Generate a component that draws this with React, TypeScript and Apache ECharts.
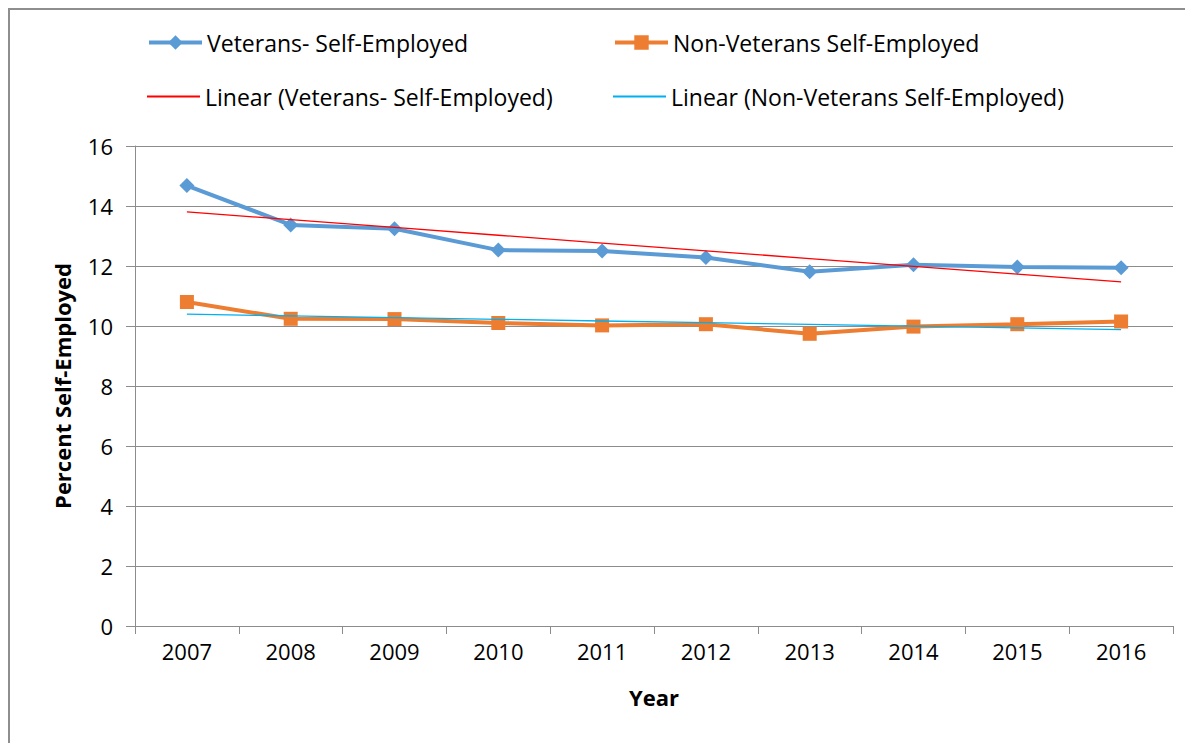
import React, { useEffect, useRef } from "react";
import * as echarts from "echarts";

const years = ["2007", "2008", "2009", "2010", "2011", "2012", "2013", "2014", "2015", "2016"];
const veterans = [14.68, 13.37, 13.24, 12.53, 12.5, 12.28, 11.81, 12.04, 11.97, 11.94];
const nonVeterans = [10.8, 10.24, 10.23, 10.1, 10.02, 10.06, 9.74, 9.98, 10.06, 10.15];
const yTicks = [0, 2, 4, 6, 8, 10, 12, 14, 16];

const NAMES = {
  vet: "Veterans- Self-Employed",
  non: "Non-Veterans Self-Employed",
  vetLin: "Linear (Veterans- Self-Employed)",
  nonLin: "Linear (Non-Veterans Self-Employed)",
};

function linearTrend(vals: number[]): number[] {
  const n = vals.length;
  const xs = vals.map((_, i) => i);
  const mx = xs.reduce((a, b) => a + b, 0) / n;
  const my = vals.reduce((a, b) => a + b, 0) / n;
  let sxy = 0;
  let sxx = 0;
  for (let i = 0; i < n; i++) {
    sxy += (xs[i] - mx) * (vals[i] - my);
    sxx += (xs[i] - mx) * (xs[i] - mx);
  }
  const slope = sxy / sxx;
  return xs.map((x) => +(my + slope * (x - mx)).toFixed(4));
}

const FONT = "'Open Sans', 'Noto Sans', sans-serif";

export default function App() {
  const ref = useRef<HTMLDivElement>(null);
  useEffect(() => {
    document.body.style.overflow = "hidden";
    if (!ref.current) return;
    const chart = echarts.init(ref.current, null, { renderer: "svg" });
    const legendText = { fontSize: 23, color: "#000", fontFamily: FONT };
    const mkLegend = (name: string, left: number, top: number, isTrend: boolean) => ({
      data: isTrend ? [{ name, icon: "rect" }] : [name],
      left,
      top: isTrend ? top : top - 2,
      itemWidth: 53,
      itemHeight: isTrend ? 2 : 18,
      itemGap: 0,
      textStyle: legendText,
      padding: 0,
      lineStyle: isTrend ? undefined : { width: 4 },
    });
    chart.setOption({
      animation: false,
      backgroundColor: "#fff",
      legend: [
        mkLegend(NAMES.vet, 137, 23, false),
        mkLegend(NAMES.non, 603, 23, false),
        mkLegend(NAMES.vetLin, 137, 75, true),
        mkLegend(NAMES.nonLin, 603, 75, true),
      ],
      grid: { left: 125, right: 20, top: 136, bottom: 117, containLabel: false },
      xAxis: {
        type: "category",
        data: years,
        boundaryGap: true,
        name: "Year",
        nameLocation: "middle",
        nameGap: 60,
        nameTextStyle: { fontSize: 22, fontWeight: "bold", color: "#000", fontFamily: FONT },
        axisLine: { lineStyle: { color: "#8c8c8c", width: 1 } },
        axisTick: { show: true, length: 8, alignWithLabel: false, lineStyle: { color: "#8c8c8c" } },
        axisLabel: { fontSize: 22, color: "#000", margin: 14, fontFamily: FONT },
        splitLine: { show: false },
      },
      yAxis: {
        type: "value",
        min: yTicks[0],
        max: yTicks[yTicks.length - 1],
        interval: 2,
        name: "Percent Self-Employed",
        nameLocation: "middle",
        nameRotate: 90,
        nameGap: 62,
        nameTextStyle: { fontSize: 22, fontWeight: "bold", color: "#000", fontFamily: FONT },
        axisLine: { show: true, lineStyle: { color: "#8c8c8c", width: 1 } },
        axisTick: { show: true, inside: false, length: 9, lineStyle: { color: "#8c8c8c" } },
        axisLabel: { fontSize: 22, color: "#000", margin: 22, fontFamily: FONT },
        splitLine: { show: true, lineStyle: { color: "#8c8c8c", width: 1 } },
      },
      series: [
        {
          name: NAMES.vet,
          type: "line",
          data: veterans,
          symbol: "diamond",
          symbolSize: 15,
          itemStyle: { color: "#5B9BD5" },
          lineStyle: { color: "#5B9BD5", width: 4 },
          z: 3,
        },
        {
          name: NAMES.non,
          type: "line",
          data: nonVeterans,
          symbol: "rect",
          symbolSize: 14,
          itemStyle: { color: "#ED7D31" },
          lineStyle: { color: "#ED7D31", width: 4 },
          z: 3,
        },
        {
          name: NAMES.vetLin,
          type: "line",
          data: linearTrend(veterans),
          symbol: "none",
          itemStyle: { color: "#FF0000" },
          lineStyle: { color: "#FF0000", width: 1.3 },
          z: 4,
        },
        {
          name: NAMES.nonLin,
          type: "line",
          data: linearTrend(nonVeterans),
          symbol: "none",
          itemStyle: { color: "#00B0F0" },
          lineStyle: { color: "#00B0F0", width: 1.3 },
          z: 4,
        },
      ],
    });
    return () => chart.dispose();
  }, []);
  return (
    <div
      style={{
        width: 1200,
        height: 740,
        boxSizing: "border-box",
        borderTop: "2px solid #8e8e8e",
        borderLeft: "2px solid #8e8e8e",
        overflow: "hidden",
      }}
    >
      <div ref={ref} style={{ width: 1183, height: 733 }} />
    </div>
  );
}
